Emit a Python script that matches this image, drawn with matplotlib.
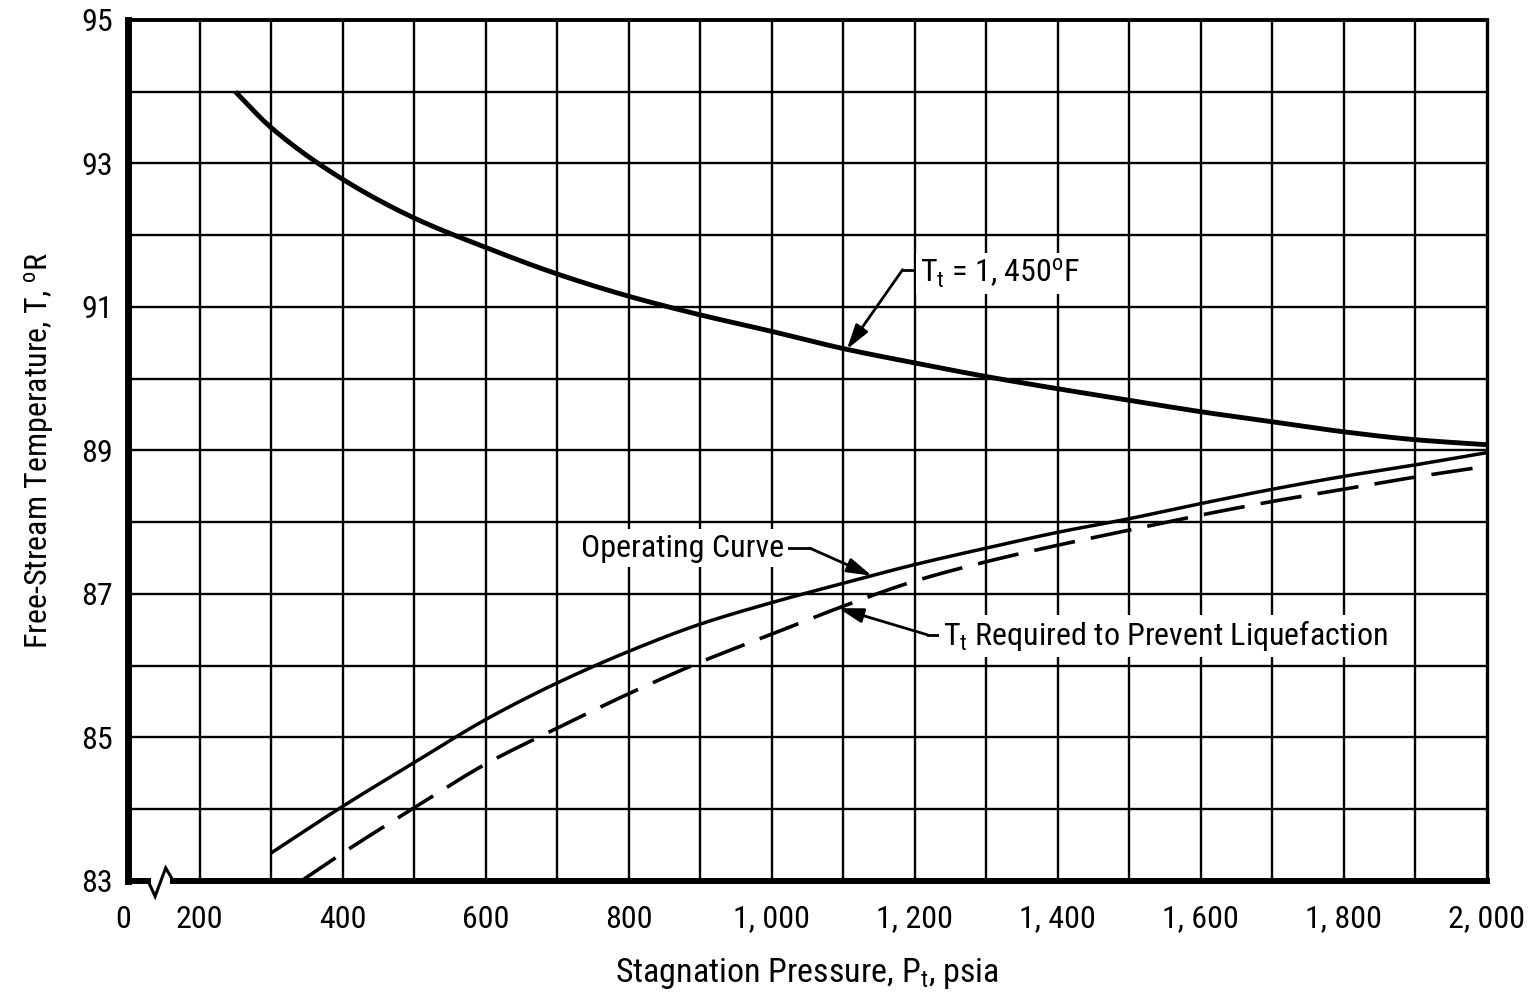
import numpy as np
import matplotlib
matplotlib.use("Agg")
import matplotlib.pyplot as plt
from matplotlib import font_manager
from matplotlib.transforms import ScaledTranslation

# ---- data ---------------------------------------------------------------
# Free-stream temperature for a stagnation temperature of 1,450 F
p_tt1450 = [250, 300, 400, 500, 600, 700, 800, 900, 1000, 1100, 1200, 1300,
            1400, 1500, 1600, 1700, 1800, 1900, 2000]
t_tt1450 = [94.00, 93.50, 92.78, 92.24, 91.83, 91.46, 91.15, 90.89, 90.66,
            90.42, 90.22, 90.03, 89.86, 89.70, 89.54, 89.40, 89.26, 89.15, 89.08]

# Operating curve of the facility
p_operating = [300, 400, 500, 600, 700, 800, 900, 1000, 1100, 1200, 1300,
               1400, 1500, 1600, 1700, 1800, 1900, 2000]
t_operating = [83.39, 84.04, 84.65, 85.25, 85.76, 86.20, 86.58, 86.88, 87.15,
               87.41, 87.64, 87.86, 88.05, 88.26, 88.46, 88.64, 88.80, 88.97]

# Stagnation temperature required to prevent liquefaction
p_liquefaction = [342, 400, 500, 600, 700, 800, 900, 1000, 1100, 1200, 1300,
                  1400, 1500, 1600, 1700, 1800, 1900, 2000]
t_liquefaction = [83.00, 83.39, 84.02, 84.63, 85.13, 85.61, 86.05, 86.44,
                  86.83, 87.18, 87.45, 87.68, 87.89, 88.10, 88.29, 88.46,
                  88.63, 88.78]

x_ticks = [100, 200, 400, 600, 800, 1000, 1200, 1400, 1600, 1800, 2000]
x_tick_labels = ["0", "200", "400", "600", "800", "1, 000", "1, 200",
                 "1, 400", "1, 600", "1, 800", "2, 000"]
y_ticks = [83, 85, 87, 89, 91, 93, 95]
y_tick_labels = ["83", "85", "87", "89", "91", "93", "95"]


# ---- helpers ------------------------------------------------------------
def pchip(x, y, n=400):
    """Shape-preserving cubic through the given points, for a smooth line."""
    x = np.asarray(x, float)
    y = np.asarray(y, float)
    h = np.diff(x)
    d = np.diff(y) / h
    m = np.zeros_like(y)
    for k in range(1, len(x) - 1):
        if d[k - 1] * d[k] > 0:
            w1 = 2 * h[k] + h[k - 1]
            w2 = h[k] + 2 * h[k - 1]
            m[k] = (w1 + w2) / (w1 / d[k - 1] + w2 / d[k])
    m[0] = d[0]
    m[-1] = d[-1]
    xs = np.linspace(x[0], x[-1], n)
    idx = np.clip(np.searchsorted(x, xs) - 1, 0, len(x) - 2)
    t = (xs - x[idx]) / h[idx]
    h00 = 2 * t**3 - 3 * t**2 + 1
    h10 = t**3 - 2 * t**2 + t
    h01 = -2 * t**3 + 3 * t**2
    h11 = t**3 - t**2
    ys = (h00 * y[idx] + h10 * h[idx] * m[idx]
          + h01 * y[idx + 1] + h11 * h[idx] * m[idx + 1])
    return xs, ys


def pick_font():
    names = {f.name for f in font_manager.fontManager.ttflist}
    for cand in ("Liberation Sans Narrow", "Roboto Condensed",
                 "Open Sans Condensed", "Noto Sans Condensed",
                 "DejaVu Sans Condensed"):
        if cand in names:
            return cand, 23, "normal"
    for f in font_manager.fontManager.ttflist:
        if f.stretch in ("condensed", "semi-condensed") and "Sans" in f.name:
            return f.name, 23, f.stretch
    return "Liberation Sans", 20, "normal"


FONT, FS, STRETCH = pick_font()
plt.rcParams["font.family"] = [FONT, "DejaVu Sans"]
plt.rcParams["font.stretch"] = STRETCH
plt.rcParams["mathtext.fontset"] = "custom"
plt.rcParams["mathtext.rm"] = FONT
plt.rcParams["mathtext.it"] = FONT
plt.rcParams["mathtext.bf"] = FONT

# ---- figure -------------------------------------------------------------
fig = plt.figure(figsize=(15.32, 9.94), dpi=100)
ax = fig.add_axes([0.0836, 0.1137, 0.8870, 0.8662])

ax.set_xlim(100, 2000)
ax.set_ylim(83, 95)

# grid: every 100 psia and every 1 degree
for p in range(200, 2000, 100):
    ax.axvline(p, color="black", lw=1.7, zorder=1)
for t in range(84, 95):
    ax.axhline(t, color="black", lw=1.7, zorder=1)

# curves
ax.plot(*pchip(p_tt1450, t_tt1450), color="black", lw=3.5,
        solid_capstyle="butt", zorder=3)
ax.plot(*pchip(p_operating, t_operating), color="black", lw=2.5,
        solid_capstyle="butt", zorder=3)
ax.plot(*pchip(p_liquefaction, t_liquefaction), color="black", lw=2.6,
        linestyle=(0, (11.5, 4.5)), dash_capstyle="butt", zorder=3)

# frame
for side, lw in (("left", 5.0), ("top", 2.8), ("right", 2.4)):
    ax.spines[side].set_linewidth(lw)
    ax.spines[side].set_color("black")
ax.spines["bottom"].set_visible(False)

# bottom axis line with a break symbol near the origin
brk_x = [0.0, 0.0147, 0.0199, 0.0277, 0.0333, 1.0]
brk_y = [0.0, 0.0, -0.0178, 0.0152, 0.0, 0.0]
ax.plot(brk_x[:2], brk_y[:2], transform=ax.transAxes, color="black",
        lw=4.3, solid_capstyle="projecting", clip_on=False, zorder=5)
ax.plot(brk_x[1:5], brk_y[1:5], transform=ax.transAxes, color="black",
        lw=2.2, solid_joinstyle="miter", clip_on=False, zorder=5)
ax.plot(brk_x[4:], brk_y[4:], transform=ax.transAxes, color="black",
        lw=4.3, solid_capstyle="projecting", clip_on=False, zorder=5)

# ticks
ax.set_xticks(x_ticks)
ax.set_xticklabels(x_tick_labels)
ax.set_yticks(y_ticks)
ax.set_yticklabels(y_tick_labels)
ax.tick_params(axis="both", length=0, labelsize=FS)
ax.tick_params(axis="x", pad=17)
ax.tick_params(axis="y", pad=11)
zero_lbl = ax.get_xticklabels()[0]
zero_lbl.set_transform(zero_lbl.get_transform()
                       + ScaledTranslation(-0.05, 0, fig.dpi_scale_trans))

ax.set_xlabel("Stagnation Pressure, P$_t$, psia", fontsize=FS + 1.5,
              labelpad=16)
ax.set_ylabel("Free-Stream Temperature, T, $^{\\rm o}$R", fontsize=FS,
              labelpad=18)

# callouts
arrow = dict(arrowstyle="-|>,head_length=0.75,head_width=0.22",
             color="black", lw=2.0, shrinkA=0, shrinkB=0, mutation_scale=20)


def callout(tip_p, series_p, series_t, elbow, bar_end, text_xy, label, ha):
    tip = (tip_p, float(np.interp(tip_p, series_p, series_t)))
    ax.annotate("", xy=tip, xytext=elbow, arrowprops=arrow, zorder=6)
    ax.plot([elbow[0], bar_end], [elbow[1], elbow[1]], color="black",
            lw=2.0, zorder=6)
    ax.text(text_xy[0], text_xy[1], label, fontsize=FS, ha=ha, va="center",
            zorder=7, bbox=dict(facecolor="white", edgecolor="none", pad=3))


callout(1105, p_tt1450, t_tt1450, (1183, 91.52), 1205, (1207, 91.47),
        "T$_t$ = 1, 450$^{\\rm o}$F", "left")
callout(1140, p_operating, t_operating, (1053, 87.64), 1020, (1017, 87.64),
        "Operating Curve", "right")
callout(1093, p_liquefaction, t_liquefaction, (1218, 86.43), 1236,
        (1240, 86.41), "T$_t$ Required to Prevent Liquefaction", "left")

fig.savefig("out.png", dpi=100, facecolor="white")
